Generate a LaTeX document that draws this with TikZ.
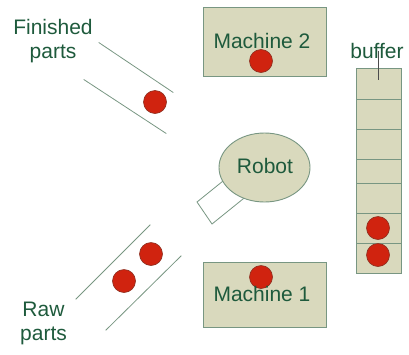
\documentclass[tikz,border=0pt]{standalone}
\usepackage{fontspec}
\setmainfont{Liberation Sans}
\usepackage{tikz}
\usetikzlibrary{shapes}
\definecolor{dgreen}{RGB}{30,90,60}
\definecolor{khaki}{RGB}{217,217,189}
\definecolor{edgegreen}{RGB}{120,150,130}
\definecolor{pred}{RGB}{208,35,15}
\definecolor{pedge}{RGB}{140,45,30}
\pgfdeclarelayer{edgelayer}
\pgfdeclarelayer{nodelayer}
\pgfsetlayers{edgelayer,nodelayer,main}
\tikzstyle{none}=[inner sep=0pt]
\tikzstyle{machine}=[rectangle,fill=khaki,draw=edgegreen,line width=0.9,minimum width=123,inner sep=0pt]
\tikzstyle{cell}=[rectangle,fill=khaki,draw=edgegreen,line width=0.9,minimum width=45,inner sep=0pt]
\tikzstyle{robot}=[ellipse,fill=khaki,draw=edgegreen,line width=0.9,minimum width=91,minimum height=69,inner sep=0pt]
\tikzstyle{part}=[circle,fill=pred,draw=pedge,line width=0.6,minimum size=23,inner sep=0pt]
\tikzstyle{txt}=[text=dgreen,font=\fontsize{21}{24}\selectfont,inner sep=0pt]
\tikzstyle{belt}=[-,draw=edgegreen,line width=0.8]

\begin{document}
\begin{tikzpicture}[x=1pt,y=-1pt]
	\useasboundingbox (0,0) rectangle (409,354);
	\begin{pgfonlayer}{nodelayer}
		\node [style=machine, minimum height=69] (M2) at (264.5, 41.5) {};
		\node [style=machine, minimum height=65] (M1) at (264.5, 294.5) {};
		\node [style=robot] (R) at (264.5, 167.5) {};
		\node [style=cell, minimum height=31] (b1) at (378.5, 83.5) {};
		\node [style=cell, minimum height=30] (b2) at (378.5, 114) {};
		\node [style=cell, minimum height=30] (b3) at (378.5, 144) {};
		\node [style=cell, minimum height=24] (b4) at (378.5, 171) {};
		\node [style=cell, minimum height=30] (b5) at (378.5, 198) {};
		\node [style=cell, minimum height=30] (b6) at (378.5, 228) {};
		\node [style=cell, minimum height=30] (b7) at (378.5, 258) {};
		\node [style=part] (pF) at (155, 102) {};
		\node [style=part] (pM2) at (261, 61) {};
		\node [style=part] (pM1) at (261, 277) {};
		\node [style=part] (pR1) at (151, 254) {};
		\node [style=part] (pR2) at (124, 281) {};
		\node [style=part] (pB1) at (378, 228) {};
		\node [style=part] (pB2) at (378, 255) {};
		\node [style=none] (FTL) at (98, 42) {};
		\node [style=none] (FTR) at (174, 93) {};
		\node [style=none] (FBL) at (83, 79) {};
		\node [style=none] (FBR) at (167, 134) {};
		\node [style=none] (RTL) at (75, 300) {};
		\node [style=none] (RTR) at (151, 224) {};
		\node [style=none] (RBL) at (105, 331) {};
		\node [style=none] (RBR) at (182, 255) {};
		\node [style=none] (GA) at (197, 202) {};
		\node [style=none] (GB) at (212, 224) {};
		\node [style=none] (GC) at (251, 192.5) {};
		\node [style=none] (GD) at (236, 170.5) {};
		\node [style=none] (BT) at (378, 50) {};
		\node [style=none] (BB) at (378, 81) {};
	\end{pgfonlayer}
	\begin{pgfonlayer}{edgelayer}
		\draw [style=belt] (FTL) to (FTR);
		\draw [style=belt] (FBL) to (FBR);
		\draw [style=belt] (RTL) to (RTR);
		\draw [style=belt] (RBL) to (RBR);
		\draw [style=belt, fill=white] (GA.center) -- (GB.center) -- (GC.center) -- (GD.center) -- cycle;
	\end{pgfonlayer}
	\node [style=txt, anchor=base] (tM2) at (262, 48) {Machine 2};
	\node [style=txt, anchor=base] (tM1) at (262, 301) {Machine 1};
	\node [style=txt, anchor=base] (tR) at (265, 173) {Robot};
	\node [style=txt, anchor=base] (tB) at (377, 58) {buffer};
	\node [style=txt, align=center] (tF) at (53, 41.5) {Finished\\parts};
	\node [style=txt, align=center] (tRaw) at (43.5, 323) {Raw\\parts};
	\draw [line width=0.8, draw=black!70] (BT) to (BB);
\end{tikzpicture}
\end{document}
